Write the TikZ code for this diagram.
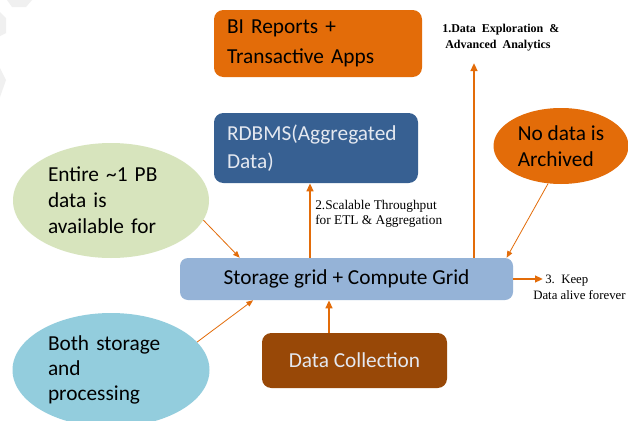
\documentclass[tikz,border=0pt]{standalone}
\usepackage{fontspec}
\setmainfont{Liberation Serif}
\newfontfamily\boxfont{Carlito}
\usetikzlibrary{arrows.meta,shapes.geometric}
\definecolor{Orng}{HTML}{E36C09}
\definecolor{Navy}{HTML}{376092}
\definecolor{Sky}{HTML}{95B3D7}
\definecolor{Leaf}{HTML}{D7E4BD}
\definecolor{Aqua}{HTML}{93CDDD}
\definecolor{Rust}{HTML}{984807}
\definecolor{Pale}{HTML}{E4E8F0}
\tikzset{box/.style={rounded corners=7pt,inner sep=0pt,align=left,font=\boxfont\fontsize{16}{22.5}\selectfont},blob/.style={ellipse,inner sep=0pt,align=left,font=\boxfont\fontsize{16}{19}\selectfont},flow/.style={-{Triangle[length=6pt,width=5pt]},line width=1.5pt,draw=Orng},thin/.style={-{Triangle[length=5pt,width=4pt]},line width=.6pt,draw=Orng},note/.style={inner sep=0pt,align=left,font=\fontsize{10}{11.5}\selectfont}}

\begin{document}
\begin{tikzpicture}[x=0.75pt,y=-0.75pt]
\useasboundingbox[fill=white] (0,0) rectangle (628,421);
% faint corner marks
\fill[gray!12] (7,0)--(32,0)--(26,7)--(12,7)--cycle;
\fill[gray!12] (0,12)--(6,18)--(6,33)--(0,36)--cycle;
\fill[gray!12] (0,68)--(6,80)--(0,97)--cycle;
% boxes
\node[box,fill=Orng,minimum width=156pt,minimum height=50.25pt,text width=136.5pt] (bi) at (318,43.5) {BI Reports +\\Transactive Apps};
\node[box,fill=Navy,text=Pale,minimum width=153pt,minimum height=52.5pt,text width=133.5pt,font=\boxfont\fontsize{16}{21}\selectfont] (rdbms) at (316,148) {RDBMS(Aggregated\\Data)};
\node[box,fill=Sky,minimum width=249.75pt,minimum height=31.5pt,rounded corners=6pt] (store) at (346.5,279) {Storage grid + Compute Grid};
\node[box,fill=Rust,text=Pale,minimum width=138.75pt,minimum height=41.25pt] (dc) at (354.5,360.5) {Data Collection};
% ellipses
\node[blob,fill=Leaf,minimum width=147pt,minimum height=86.25pt,text width=94.5pt,font=\boxfont\fontsize{16}{19.5}\selectfont] (entire) at (111,200.5) {Entire \textasciitilde1 PB\\data is\\available for};
\node[blob,fill=Aqua,minimum width=147.75pt,minimum height=85.5pt,text width=94.5pt] (both) at (111,370) {Both storage\\and\\processing};
\node[blob,fill=Orng,minimum width=101.25pt,minimum height=57pt] (arch) at (561,146) {No data is\\Archived};
% free ends
\coordinate (c1) at (329,0);
\coordinate (c2) at (310,0);
\coordinate (c3) at (474,0);
\coordinate (explore) at (474,63);
\coordinate (keep) at (543,279);
% arrows
\draw[flow] (dc.north -| c1) -- (store.south -| c1);
\draw[flow] (store.north -| c2) -- (rdbms.south -| c2);
\draw[flow] (store.north -| c3) -- (explore);
\draw[flow] (store.east) -- (keep);
\draw[thin] (entire.-12) -- ([xshift=45pt]store.north west);
\draw[thin] (both.18) -- ([xshift=55pt]store.south west);
\draw[thin] (arch.-109) -- ([xshift=-5pt]store.north east);
% labels
\node[note,anchor=west,font=\bfseries\fontsize{9}{12}\selectfont] (l1) at (442,38) {1.Data\ \ Exploration\ \ \&\\\ Advanced\ \ Analytics};
\node[note,anchor=west] (l2) at (315,213.5) {2.Scalable Throughput\\for ETL \& Aggregation};
\node[note,anchor=west,font=\fontsize{9.6}{12}\selectfont] (l3) at (533,287) {\hspace*{9pt}3.\ \ Keep\\Data alive forever};
\end{tikzpicture}
\end{document}
